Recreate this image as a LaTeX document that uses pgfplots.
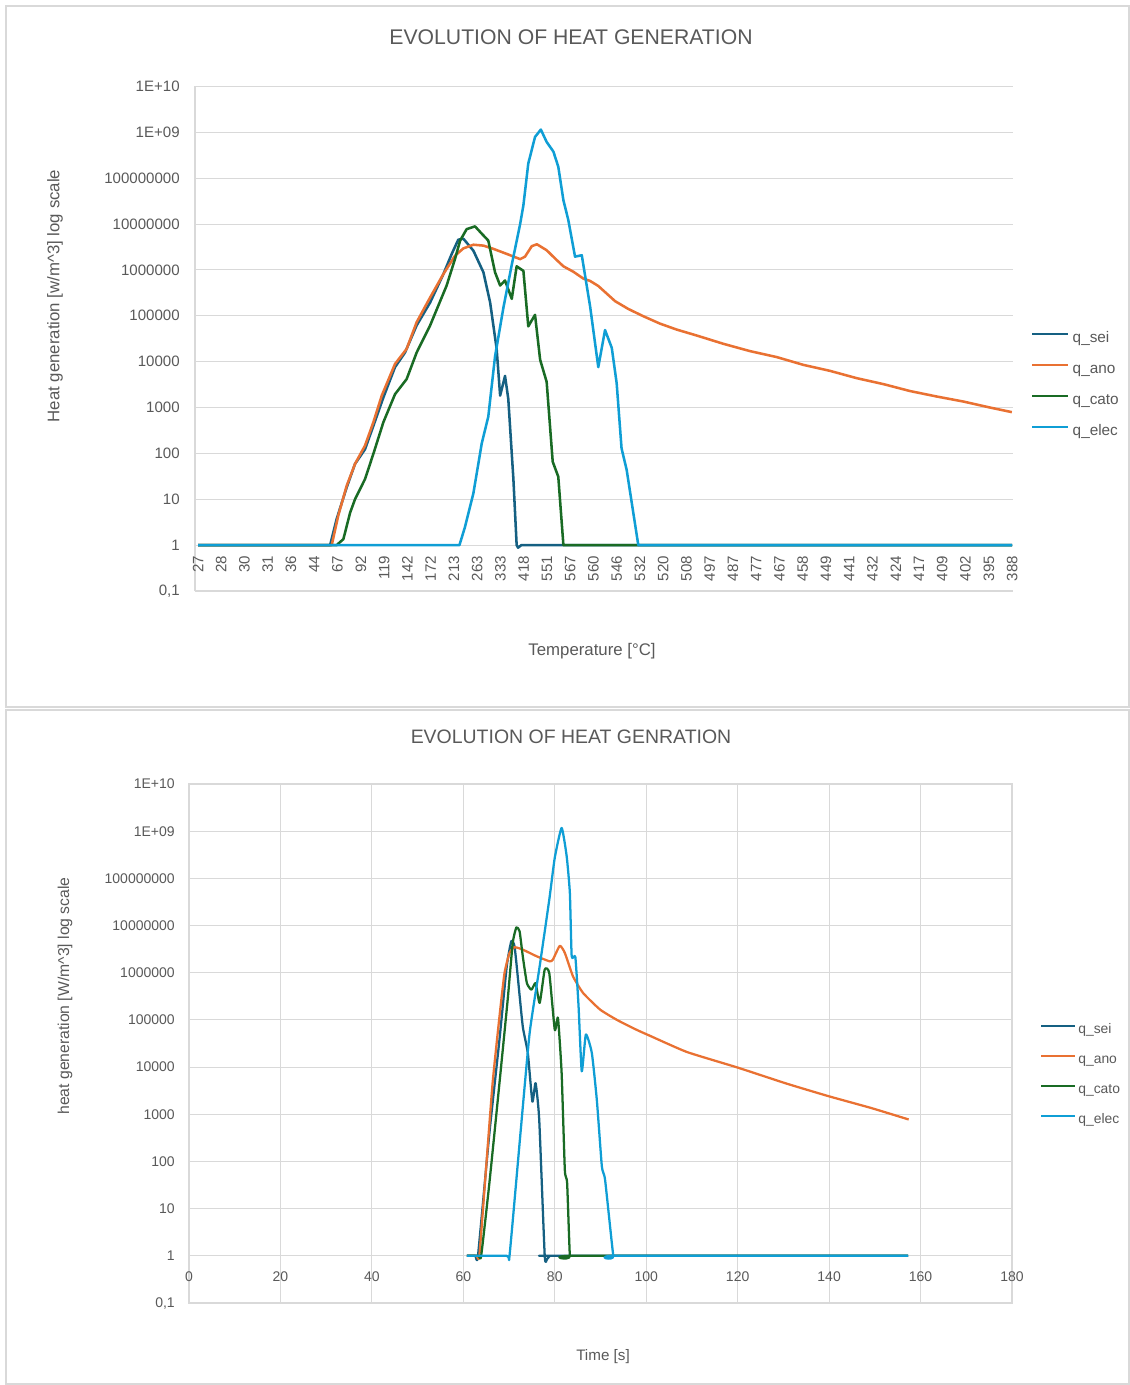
\documentclass[border=0pt]{standalone}
\usepackage{pgfplots}
\pgfplotsset{compat=1.18}
\usepackage{fontspec}
\setmainfont{Liberation Sans}

\definecolor{qsei}{HTML}{156082}
\definecolor{qano}{HTML}{E97132}
\definecolor{qcato}{HTML}{196B24}
\definecolor{qelec}{HTML}{0F9ED5}
\definecolor{txt}{HTML}{595959}
\definecolor{gridc}{HTML}{D9D9D9}

\begin{document}
\begin{tikzpicture}
\begin{scope}[x=0.75pt,y=-0.75pt]
  \path[use as bounding box] (0,0) rectangle (1130,1385);
  \draw[gridc, line width=1.2pt] (6,6) rectangle (1129,707);
  \draw[gridc, line width=1.2pt] (6,710) rectangle (1129,1384);
  \coordinate (topSW) at (195,591);
  \coordinate (botSW) at (189,1303);
  \node[text=txt, font=\fontsize{15.9}{19}\selectfont] at (571,37) {EVOLUTION OF HEAT GENERATION};
  \node[text=txt, font=\fontsize{14.6}{17}\selectfont] at (571,737) {EVOLUTION OF HEAT GENRATION};
  \node[text=txt, font=\fontsize{12.6}{15}\selectfont] at (592,651) {Temperature [°C]};
  \node[text=txt, font=\fontsize{11.4}{14}\selectfont] at (603,1357) {Time [s]};
  \node[text=txt, font=\fontsize{12.6}{15}\selectfont, rotate=90] at (55,296) {Heat generation [w/m\textasciicircum 3] log scale};
  \node[text=txt, font=\fontsize{11.8}{14}\selectfont, rotate=90] at (65,996) {heat generation [W/m\textasciicircum 3] log scale};
\end{scope}

% ---------- heat generation against temperature (category axis) ----------
\begin{axis}[
  at={(topSW)}, anchor=south west,
  scale only axis, width=613.5pt, height=378.4pt,
  ymode=log, ymin=0.1, ymax=1e10,
  ytick={0.1,1,10,100,1000,1e4,1e5,1e6,1e7,1e8,1e9,1e10},
  yticklabels={{0,1},1,10,100,1000,10000,100000,1000000,10000000,100000000,1E+09,1E+10},
  xmin=-0.129, xmax=35.04,
  axis x line*=bottom, axis y line*=left,
  tick style={draw=none},
  ymajorgrids,
  grid style={draw=gridc, line width=0.8pt},
  axis line style={draw=gridc, line width=0.8pt},
  xtick={0,1,...,35},
  xticklabels={27,28,30,31,36,44,67,92,119,142,172,213,263,333,418,551,567,560,546,532,520,508,497,487,477,467,458,449,441,432,424,417,409,402,395,388},
  xticklabel style={yshift=26.5pt, rotate=90, anchor=east, inner sep=0pt, text=txt, font=\fontsize{11.3}{13}\selectfont},
  yticklabel style={anchor=east, inner sep=0pt, xshift=-11.25pt, text=txt, font=\fontsize{11.3}{13}\selectfont},
  legend cell align=left,
  legend style={at={(1.022,0.5153)}, anchor=north west, draw=none, fill=none, inner sep=0pt,
    font=\fontsize{11.5}{13}\selectfont, text=txt, row sep=12.25pt, column sep=2.5pt,
    nodes={inner sep=0pt, text height=8.5pt, text depth=2.5pt}},
  legend image code/.code={\draw[#1, line width=1.6pt] (0pt,3.5pt) -- (27pt,3.5pt);},
]
\addplot[qsei, line width=1.9pt, line join=round, mark=none] coordinates {(0,1) (5.68,1) (5.96,3.7) (6.39,18) (6.75,59) (7.18,123) (7.54,398) (7.97,1660) (8.47,7590) (8.90,15800) (9.40,61700) (9.98,195000) (10.55,813000) (10.91,2.24e6) (11.19,4.57e6) (11.41,4.79e6) (11.84,2.63e6) (12.27,891000) (12.56,195000) (12.84,19000) (12.99,1820) (13.20,4900) (13.34,1550) (13.56,27.5) (13.70,1) (13.76,0.88) (13.90,1) (35,1)};
\addlegendentry{q\_sei}
\addplot[qano, line width=1.9pt, line join=round, mark=none] coordinates {(0,1) (5.75,1) (6.03,4.4) (6.39,19.5) (6.75,59) (7.18,148) (7.54,479) (7.90,1820) (8.47,8910) (8.97,19000) (9.40,72400) (9.98,251000) (10.55,813000) (11.05,2.04e6) (11.41,2.95e6) (11.84,3.55e6) (12.27,3.39e6) (12.70,2.88e6) (13.27,2.24e6) (13.85,1.72e6) (14.06,1.95e6) (14.35,3.3e6) (14.57,3.63e6) (14.99,2.69e6) (15.35,1.78e6) (15.71,1.20e6) (16.14,912000) (16.57,646000) (16.86,575000) (17.21,447000) (17.93,209000) (18.50,141000) (19.15,97700) (19.86,67600) (20.58,50100) (21.44,37200) (22.59,24500) (23.73,17000) (24.88,12600) (26.03,8510) (27.17,6310) (28.32,4370) (29.47,3240) (30.61,2290) (31.76,1740) (32.91,1350) (34.05,1000) (34.99,794)};
\addlegendentry{q\_ano}
\addplot[qcato, line width=1.9pt, line join=round, mark=none] coordinates {(0,1) (5.96,1) (6.25,1.35) (6.54,5.1) (6.75,10) (7.18,27.5) (7.54,98) (7.97,479) (8.47,1950) (8.97,4170) (9.40,15800) (9.98,61700) (10.69,457000) (11.05,1.74e6) (11.27,4.37e6) (11.55,7.76e6) (11.91,8.91e6) (12.20,6.17e6) (12.48,4.37e6) (12.77,891000) (12.99,457000) (13.20,589000) (13.49,234000) (13.70,1.20e6) (13.99,955000) (14.20,58900) (14.49,105000) (14.71,11000) (14.99,3630) (15.25,66) (15.49,31) (15.71,1) (35,1)};
\addlegendentry{q\_cato}
\addplot[qelec, line width=1.9pt, line join=round, mark=none] coordinates {(0,1) (11.24,1) (11.48,2.5) (11.84,13.5) (12.20,166) (12.48,631) (12.77,12900) (13.13,150000) (13.49,1.3e6) (13.85,1.0e7) (13.99,2.57e7) (14.20,2.09e8) (14.49,7.94e8) (14.74,1.15e9) (14.99,6.17e8) (15.28,3.80e8) (15.49,1.78e8) (15.71,3.31e7) (15.92,1.23e7) (16.21,1.95e6) (16.50,2.09e6) (16.86,158000) (17.21,7590) (17.50,49000) (17.79,20000) (18.00,3390) (18.21,129) (18.43,43.7) (18.93,1) (35,1)};
\addlegendentry{q\_elec}
\end{axis}

% ---------- heat generation against time ----------
\begin{axis}[
  at={(botSW)}, anchor=south west,
  scale only axis, width=617.25pt, height=389.25pt,
  ymode=log, ymin=0.1, ymax=1e10,
  ytick={0.1,1,10,100,1000,1e4,1e5,1e6,1e7,1e8,1e9,1e10},
  yticklabels={{0,1},1,10,100,1000,10000,100000,1000000,10000000,100000000,1E+09,1E+10},
  xmin=0, xmax=180, xtick={0,20,...,180},
  xticklabels={0,20,40,60,80,100,120,140,160,180},
  tick style={draw=none},
  xmajorgrids, ymajorgrids,
  grid style={draw=gridc, line width=0.8pt},
  axis line style={draw=gridc, line width=0.8pt},
  xticklabel style={yshift=24pt, anchor=north, inner sep=0pt, text=txt, font=\fontsize{10.5}{12}\selectfont},
  yticklabel style={anchor=east, inner sep=0pt, xshift=-10.5pt, text=txt, font=\fontsize{10.5}{12}\selectfont},
  legend cell align=left,
  legend style={at={(1.034,0.5395)}, anchor=north west, draw=none, fill=none, inner sep=0pt,
    font=\fontsize{10.4}{12}\selectfont, text=txt, row sep=12.5pt, column sep=2pt,
    nodes={inner sep=0pt, text height=7.5pt, text depth=2.5pt}},
  legend image code/.code={\draw[#1, line width=1.6pt, sharp plot] (0pt,3.2pt) -- (25pt,3.2pt);},
]
\addplot[qsei, line width=1.7pt, line join=round, mark=none, smooth, tension=0.3] coordinates {(60.8,1) (62.6,1) (63.2,1) (65.7,398) (67.9,38000) (69.5,1.38e6) (70.5,4.68e6) (71.2,3.63e6) (71.9,832000) (73.0,72400) (74.1,20000) (75.1,1860) (75.8,4570) (76.6,759) (77.8,1) (78.3,0.85) (78.9,1) (79.6,1) (157.3,1)};
\addlegendentry{q\_sei}
\addplot[qano, line width=1.7pt, line join=round, mark=none, smooth, tension=0.3] coordinates {(60.8,1) (62.9,1) (63.5,1) (65.0,78) (66.4,4570) (67.9,117000) (69.0,977000) (70.1,2.63e6) (71.2,3.47e6) (73.0,3.09e6) (76.0,2.24e6) (78.9,1.74e6) (79.6,1.91e6) (81.1,3.72e6) (82.2,2.63e6) (84.0,832000) (86.2,372000) (89.9,166000) (93.6,100000) (97.9,61700) (100.9,45700) (108.9,20900) (120,9770) (130.7,4470) (140,2400) (149.3,1350) (157.4,776)};
\addlegendentry{q\_ano}
\addplot[qcato, line width=1.7pt, line join=round, mark=none, smooth, tension=0.3] coordinates {(60.8,1) (63.3,1) (63.9,1) (65.7,35) (67.9,4570) (69.7,269000) (70.8,4.27e6) (71.6,9.12e6) (72.3,7.59e6) (73.0,2.24e6) (73.9,603000) (74.9,437000) (75.8,603000) (76.7,229000) (77.8,1.17e6) (78.8,977000) (80.0,61700) (80.7,110000) (81.5,7410) (82.2,66) (82.7,35) (83.3,1) (83.9,1) (157.3,1)};
\addlegendentry{q\_cato}
\addplot[qelec, line width=1.7pt, line join=round, mark=none, smooth, tension=0.3] coordinates {(60.8,1) (69.5,1) (70.1,1) (72.5,400) (74.5,52500) (76.7,1.38e6) (78.8,3.55e7) (80.0,2.75e8) (81.5,1.17e9) (82.6,2.95e8) (83.3,4.9e7) (83.7,2.24e6) (84.5,2.14e6) (85.2,195000) (85.9,8130) (86.8,49000) (88.1,20000) (89.2,2000) (90.3,78) (91.0,41) (92.8,1) (93.4,1) (157.3,1)};
\addlegendentry{q\_elec}
\end{axis}

\pgfresetboundingbox
\path[x=0.75pt,y=-0.75pt] (0,0) rectangle (1130,1385);
\end{tikzpicture}
\end{document}
